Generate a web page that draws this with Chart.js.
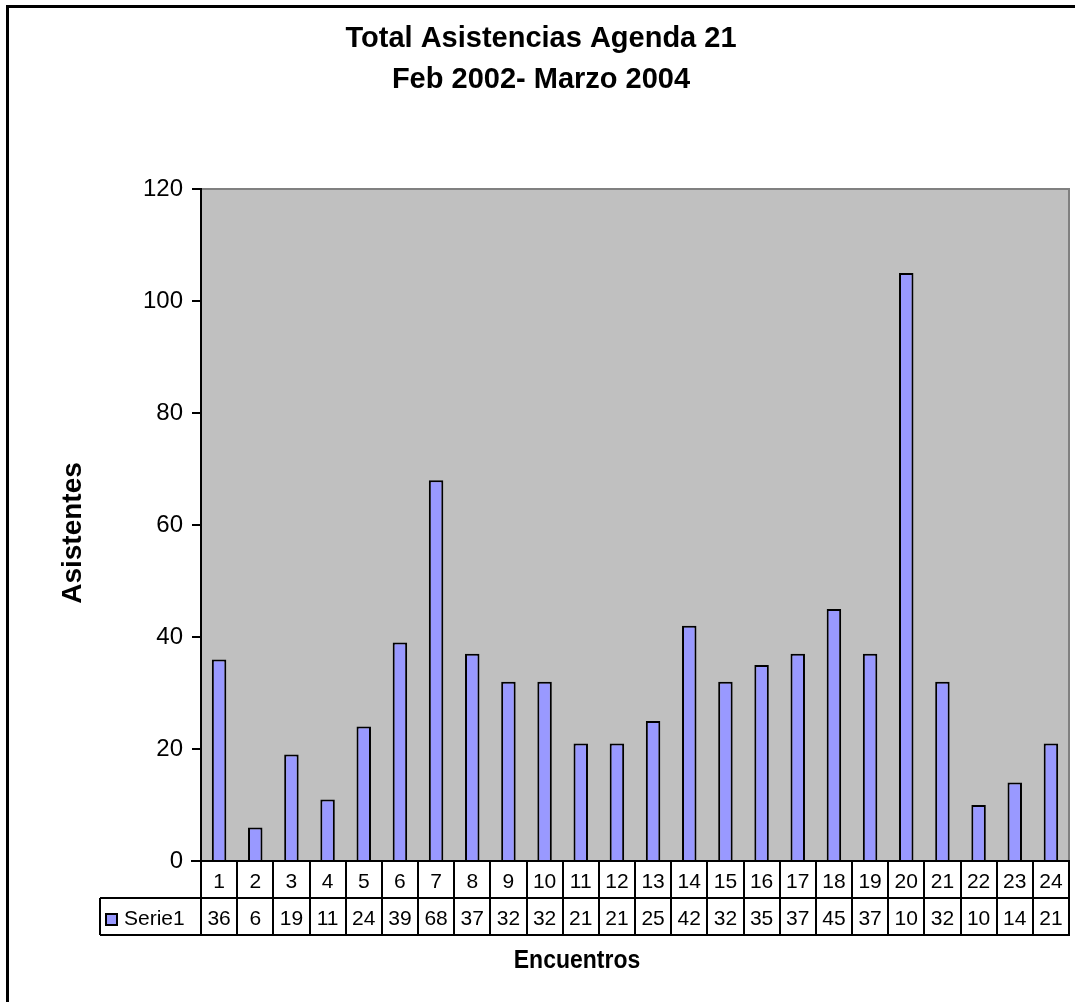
<!DOCTYPE html>
<html>
<head>
<meta charset="utf-8">
<title>Total Asistencias Agenda 21</title>
<script src="https://cdn.jsdelivr.net/npm/chart.js@4/dist/chart.umd.min.js"></script>
<style>
  html, body { margin: 0; padding: 0; background: #fff; }
  #wrap { width: 1075px; height: 1002px; position: relative; }
</style>
</head>
<body>
<div id="wrap"><canvas id="asistChart"></canvas></div>
<script>
const encuentros = ['1','2','3','4','5','6','7','8','9','10','11','12','13','14','15','16','17','18','19','20','21','22','23','24'];
const asistentes = [36, 6, 19, 11, 24, 39, 68, 37, 32, 32, 21, 21, 25, 42, 32, 35, 37, 45, 37, 105, 32, 10, 14, 21];
// values as printed in the data table (cell 20 is clipped to "10" in the original)
const tablaValores = ['36','6','19','11','24','39','68','37','32','32','21','21','25','42','32','35','37','45','37','10','32','10','14','21'];
const serieNombre = 'Serie1';
const tituloLineas = ['Total Asistencias Agenda 21', 'Feb 2002- Marzo 2004'];

const FONT = '"Liberation Sans", Arial, sans-serif';
const barColor = '#9999FF';

const marco = {
  id: 'marco',
  beforeDraw(chart) {
    const c = chart.ctx, a = chart.chartArea;
    c.save();
    c.fillStyle = '#fff';
    c.fillRect(0, 0, chart.width, chart.height);
    // outer frame
    c.fillStyle = '#000';
    c.fillRect(6, 5, 3, chart.height - 5);
    c.fillRect(6, 5, chart.width - 6, 3);
    // plot area
    c.fillStyle = '#C0C0C0';
    c.fillRect(a.left, a.top, a.right - a.left, a.bottom - a.top);
    c.fillStyle = '#808080';
    c.fillRect(a.left, a.top - 1, a.right - a.left + 1, 2);
    c.fillRect(a.right - 1, a.top - 1, 2, a.bottom - a.top + 1);
    c.restore();
  },
  afterDraw(chart) {
    const c = chart.ctx, a = chart.chartArea, x = chart.scales.x;
    const colW = (a.right - a.left) / encuentros.length;
    c.save();
    c.fillStyle = '#000';
    c.textAlign = 'center';
    c.textBaseline = 'alphabetic';
    c.font = 'bold 29px ' + FONT;
    c.fillText(tituloLineas[0], 541, 47);
    c.fillText(tituloLineas[1], 541, 88);

    // data table
    const r0 = a.bottom, r1 = r0 + 37, r2 = r1 + 37;
    c.strokeStyle = '#000';
    c.lineWidth = 2;
    c.beginPath();
    c.moveTo(a.left - 10, r0); c.lineTo(a.right + 1, r0);
    c.moveTo(100, r1); c.lineTo(a.right + 1, r1);
    c.moveTo(100, r2); c.lineTo(a.right + 1, r2);
    c.moveTo(100, r1); c.lineTo(100, r2);
    for (let i = 0; i <= encuentros.length; i++) {
      const px = Math.round(a.left + i * colW);
      c.moveTo(px, r0); c.lineTo(px, r2);
    }
    c.stroke();

    c.textBaseline = 'middle';
    c.font = '21px ' + FONT;
    encuentros.forEach((lab, i) => {
      const cx = x.getPixelForValue(i);
      c.fillText(lab, cx, (r0 + r1) / 2 + 3);
      c.fillText(tablaValores[i], cx, (r1 + r2) / 2 + 3);
    });
    // legend key
    c.fillStyle = barColor;
    c.fillRect(106, 914, 11, 11);
    c.lineWidth = 2;
    c.strokeRect(106, 914, 11, 11);
    c.fillStyle = '#000';
    c.textAlign = 'left';
    c.fillText(serieNombre, 124, (r1 + r2) / 2 + 3);

    // axis titles
    c.textAlign = 'center';
    c.textBaseline = 'alphabetic';
    c.save();
    c.translate(577, 968);
    c.scale(1, 1.12);
    c.font = 'bold 23px ' + FONT;
    c.fillText('Encuentros', 0, 0);
    c.restore();
    c.translate(81, 533);
    c.rotate(-Math.PI / 2);
    c.font = 'bold 28px ' + FONT;
    c.fillText('Asistentes', 0, 0);
    c.restore();
  }
};

new Chart(document.getElementById('asistChart'), {
  type: 'bar',
  data: {
    labels: encuentros,
    datasets: [{
      label: serieNombre,
      data: asistentes,
      backgroundColor: barColor,
      borderColor: '#000',
      borderWidth: 2,
      borderSkipped: 'bottom',
      categoryPercentage: 1,
      barPercentage: 0.4
    }]
  },
  options: {
    responsive: true,
    maintainAspectRatio: false,
    devicePixelRatio: 1,
    animation: false,
    layout: { padding: { left: 0, top: 189, right: 6, bottom: 141 } },
    plugins: { legend: { display: false }, title: { display: false }, tooltip: { enabled: false } },
    scales: {
      x: { display: false, offset: true },
      y: {
        min: 0, max: 120,
        ticks: { stepSize: 20, color: '#000', font: { family: FONT, size: 24 }, padding: 9 },
        grid: { drawOnChartArea: false, drawTicks: true, tickLength: 9, color: '#000', lineWidth: 2 },
        border: { display: true, color: '#000', width: 2 },
        afterFit(scale) { scale.width = 201; }
      }
    }
  },
  plugins: [marco]
});
</script>
</body>
</html>
